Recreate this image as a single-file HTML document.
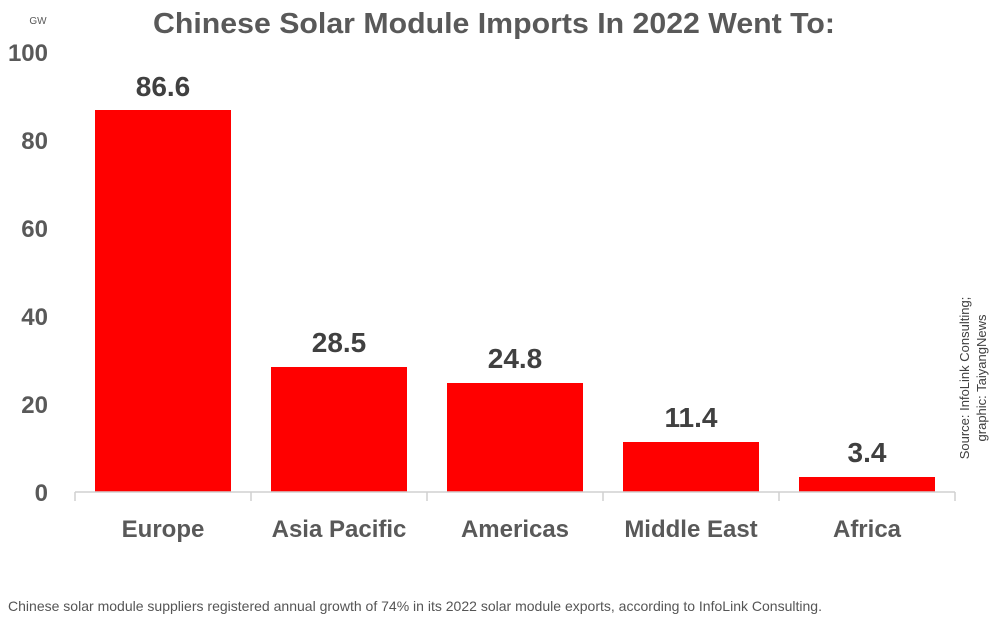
<!DOCTYPE html>
<html><head><meta charset="utf-8"><style>
html,body{margin:0;padding:0;background:#fff;width:1000px;height:622px;overflow:hidden}
svg{display:block;font-family:"Liberation Sans",sans-serif}
</style></head><body>
<svg width="1000" height="622" viewBox="0 0 1000 622">
<text x="494" y="33" text-anchor="middle" font-size="29" font-weight="bold" fill="#595959" textLength="682" lengthAdjust="spacingAndGlyphs">Chinese Solar Module Imports In 2022 Went To:</text>
<text x="38" y="24" text-anchor="middle" font-size="10" fill="#595959">GW</text>
<g font-size="24" font-weight="bold" fill="#595959" text-anchor="end">
<text x="48" y="61">100</text>
<text x="48" y="149">80</text>
<text x="48" y="237">60</text>
<text x="48" y="325">40</text>
<text x="48" y="413">20</text>
<text x="48" y="501">0</text>
</g>
<g fill="#ff0000">
<rect x="95" y="110" width="136" height="382"/>
<rect x="271" y="367" width="136" height="125"/>
<rect x="447" y="383" width="136" height="109"/>
<rect x="623" y="442" width="136" height="50"/>
<rect x="799" y="477" width="136" height="15"/>
</g>
<g stroke="#d0d0d0" stroke-width="1.5" fill="none">
<line x1="75" y1="492" x2="955" y2="492"/>
<line x1="75" y1="492" x2="75" y2="501"/>
<line x1="251" y1="492" x2="251" y2="501"/>
<line x1="427" y1="492" x2="427" y2="501"/>
<line x1="603" y1="492" x2="603" y2="501"/>
<line x1="779" y1="492" x2="779" y2="501"/>
<line x1="955" y1="492" x2="955" y2="501"/>
</g>
<g font-size="28" font-weight="bold" fill="#404040" text-anchor="middle">
<text x="163" y="96">86.6</text>
<text x="339" y="352">28.5</text>
<text x="515" y="368">24.8</text>
<text x="691" y="427">11.4</text>
<text x="867" y="462">3.4</text>
</g>
<g font-size="24" font-weight="bold" fill="#595959" text-anchor="middle">
<text x="163" y="537">Europe</text>
<text x="339" y="537">Asia Pacific</text>
<text x="515" y="537">Americas</text>
<text x="691" y="537">Middle East</text>
<text x="867" y="537">Africa</text>
</g>
<g font-size="13" fill="#404040" text-anchor="middle">
<text transform="translate(969,378) rotate(-90)">Source: InfoLink Consulting;</text>
<text transform="translate(986,378) rotate(-90)">graphic: TaiyangNews</text>
</g>
<text x="8" y="611" font-size="14" fill="#555" textLength="814" lengthAdjust="spacingAndGlyphs">Chinese solar module suppliers registered annual growth of 74% in its 2022 solar module exports, according to InfoLink Consulting.</text>
</svg>
</body></html>
